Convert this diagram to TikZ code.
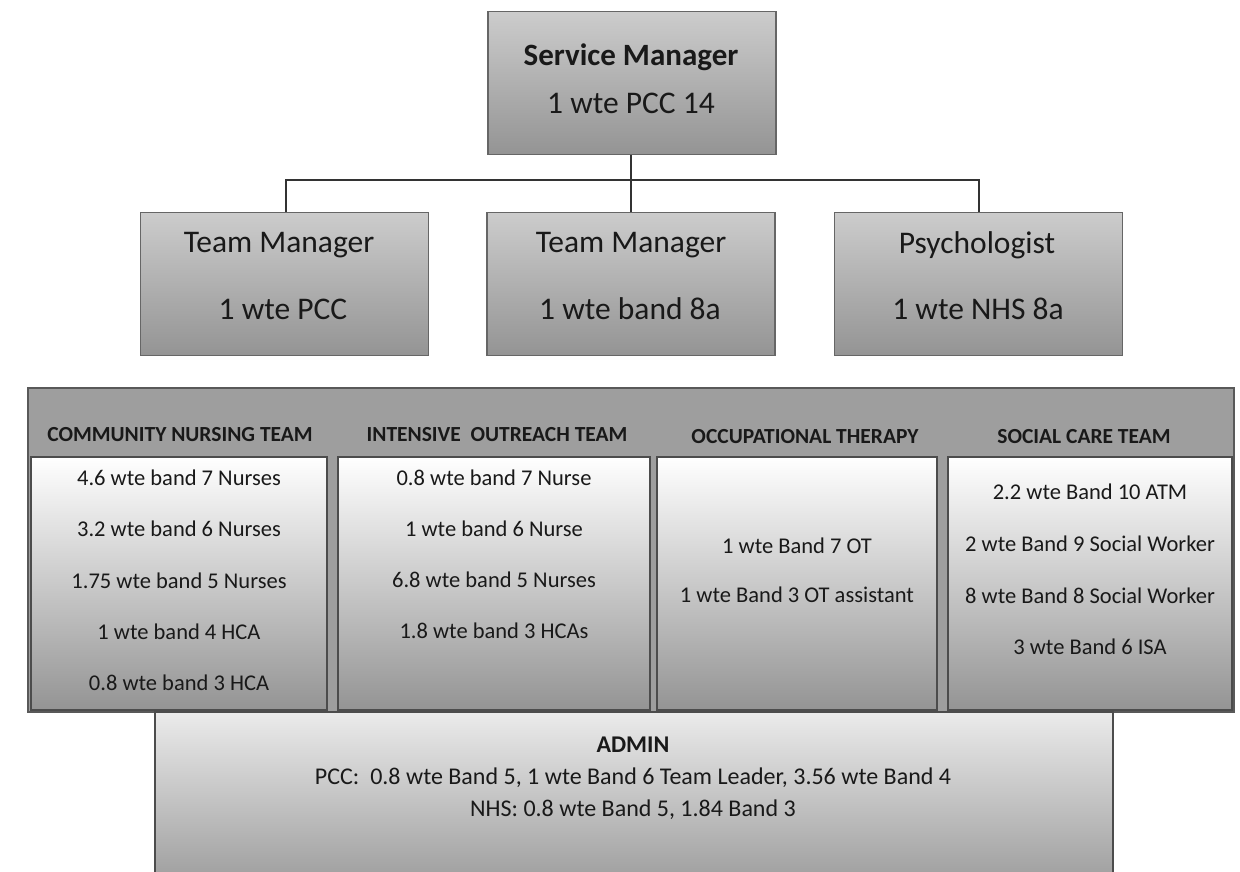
\documentclass[tikz,border=0pt]{standalone}
\usepackage{fontspec}
\setmainfont{Carlito}
\begin{document}
\begin{tikzpicture}[x=1pt,y=-1pt,
  topbox/.style={draw=black!60, line width=1.2pt, top color=black!20, middle color=black!8, bottom color=black!42, minimum width=288, minimum height=143, inner sep=0pt},
  panel/.style={draw=black!65, line width=2pt, fill=black!38, inner sep=0pt},
  listbox/.style={draw=black!70, line width=1.2pt, top color=white, bottom color=black!42, inner sep=0pt},
  adminbox/.style={draw=black!70, line width=1.2pt, top color=black!8, middle color=black!12, bottom color=black!38, inner sep=0pt},
  big/.style={font=\fontsize{31.5}{31.5}\selectfont, text=black!90},
  head/.style={font=\fontsize{21.5}{21.5}\selectfont\bfseries, text=black!90},
  items/.style={align=center, text=black!90},
  conn/.style={draw=black!80, line width=1.6pt}
]
\useasboundingbox (0,0) rectangle (1240,871);
\fill[white] (0,0) rectangle (1240,871);

% top level
\node[topbox] (sm) at (632,83) {};
\node[big, font=\fontsize{31}{31}\selectfont\bfseries] (smt) at (631,57) {Service Manager};
\node[big] (sms) at (631,103) {1 wte PCC 14};

\node[topbox] (tm1) at (284.5,284) {};
\node[topbox] (tm2) at (631,284) {};
\node[topbox] (ps) at (978.5,284) {};
\node[big] (tm1a) at (279,245) {Team Manager};
\node[big] (tm1b) at (283,309) {1 wte PCC};
\node[big] (tm2a) at (631,245) {Team Manager};
\node[big] (tm2b) at (630,309) {1 wte band 8a};
\node[big] (psa) at (977,245) {Psychologist};
\node[big] (psb) at (978,309) {1 wte NHS 8a};

\coordinate (j) at (631,180);
\draw[conn] (sm.south -| j) -- (j);
\draw[conn] (tm1.north -| 286,0) |- (j) -| (ps.north -| 979,0);
\draw[conn] (j) -- (tm2.north -| j);

% panel
\node[panel, minimum width=1206, minimum height=324] (pn) at (631,550) {};

\node[head] (h1) at (180,435) {COMMUNITY NURSING TEAM};
\node[head] (h2) at (497,435) {INTENSIVE\ \ OUTREACH TEAM};
\node[head] (h3) at (805,437) {OCCUPATIONAL THERAPY};
\node[head] (h4) at (1084,437) {SOCIAL CARE TEAM};

\node[listbox, minimum width=296, minimum height=253] (b1) at (179,583.5) {};
\node[listbox, minimum width=312, minimum height=253] (b2) at (494,583.5) {};
\node[listbox, minimum width=280, minimum height=253] (b3) at (797,583.5) {};
\node[listbox, minimum width=284, minimum height=253] (b4) at (1090,583.5) {};

\node[items, font=\fontsize{22.5}{51.3}\selectfont] (l1) at (179,580.5) {4.6 wte band 7 Nurses\\3.2 wte band 6 Nurses\\1.75 wte band 5 Nurses\\1 wte band 4 HCA\\0.8 wte band 3 HCA};
\node[items, font=\fontsize{22.5}{51}\selectfont] (l2) at (494,554.5) {0.8 wte band 7 Nurse\\1 wte band 6 Nurse\\6.8 wte band 5 Nurses\\1.8 wte band 3 HCAs};
\node[items, font=\fontsize{22.5}{49}\selectfont] (l3) at (797,570.5) {1 wte Band 7 OT\\1 wte Band 3 OT assistant};
\node[items, font=\fontsize{22.5}{51.7}\selectfont] (l4) at (1090,569.5) {2.2 wte Band 10 ATM\\2 wte Band 9 Social Worker\\8 wte Band 8 Social Worker\\3 wte Band 6 ISA};

% admin
\node[adminbox, minimum width=958, minimum height=170] (ad) at (634,797) {};
\node[items, font=\fontsize{24}{32}\selectfont] (adt) at (633,778) {\textbf{ADMIN}\\PCC:\ \ 0.8 wte Band 5, 1 wte Band 6 Team Leader, 3.56 wte Band 4\\NHS: 0.8 wte Band 5, 1.84 Band 3};
\end{tikzpicture}
\end{document}
